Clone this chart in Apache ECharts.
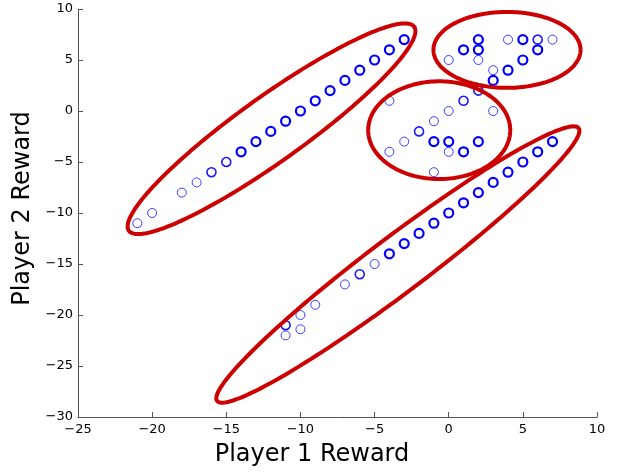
<!DOCTYPE html>
<html>
<head>
<meta charset="utf-8">
<script src="https://cdn.jsdelivr.net/npm/echarts@6/dist/echarts.min.js"></script>
<style>html,body{margin:0;padding:0;background:#fff;}#c{width:625px;height:472px;}</style>
</head>
<body>
<div id="c"></div>
<script>
// x tick labels and y tick labels (multiples of 5)
var xTicks = [-25, -20, -15, -10, -5, 0, 5, 10];
var yTicks = [-30, -25, -20, -15, -10, -5, 0, 5, 10];

// Points seen once (thin circles)
var singlePoints = [
  [-21,-11],[-20,-10],[-18,-8],[-17,-7],
  [-11,-22],[-10,-21.4],[-10,-20],[-9,-19],[-7,-17],[-5,-15],
  [-4,1],[-3,-3],[-4,-4],[-1,-1],[-1,-6],[0,0],[0,-4],[3,0],
  [0,5],[2,5],[3,4],[4,7],[7,7]
];
// Points seen a few times (medium circles)
var fewPoints = [
  [-16,-6],[-15,-5],
  [-11,-21],[-6,-16],
  [-2,-2],[1,1],[2,2],
  [6,7]
];
// Points seen many times (bold circles)
var manyPoints = [
  [-14,-4],[-13,-3],[-12,-2],[-11,-1],[-10,0],[-9,1],[-8,2],[-7,3],[-6,4],[-5,5],[-4,6],[-3,7],
  [-4,-14],[-3,-13],[-2,-12],[-1,-11],[0,-10],[1,-9],[2,-8],[3,-7],[4,-6],[5,-5],[6,-4],[7,-3],
  [-1,-3],[0,-3],[1,-4],[2,-3],
  [1,6],[2,7],[2,6],[3,3],[4,4],[5,7],[5,5],[6,6]
];
// Cluster outlines: centre (x,y), end of one semi-axis (x,y), end of the conjugate semi-axis (x,y)
var clusterEllipses = [
  [-11.95,-1.74, -2.33,8.26, -13.23,0.84],
  [-0.64,-1.88, 4.15,-1.88, -0.64,2.91],
  [3.93,5.99, 8.89,5.99, 3.93,9.71],
  [-3.43,-15.05, 8.76,-1.68, -4.57,-12.88]
];

var fmt = function(v){ return String(v).replace('-', '\u2212'); };
var axisCol = '#555';
var chart = echarts.init(document.getElementById('c'), null, {renderer:'canvas'});
function scatter(data, width, color){
  return {type:'scatter', data:data, symbol:'circle', symbolSize:9,
    itemStyle:{color:'rgba(0,0,0,0)', borderColor:color, borderWidth:width, opacity:1},
    emphasis:{disabled:true}, z:2, silent:true};
}
chart.setOption({
  animation:false,
  grid:{left:78, right:28, top:9, bottom:55, containLabel:false},
  xAxis:{type:'value', min:xTicks[0], max:xTicks[xTicks.length-1], interval:5,
    name:'Player 1 Reward', nameLocation:'middle', nameGap:26,
    nameTextStyle:{fontFamily:'DejaVu Sans', fontSize:24, color:'#000', padding:[0,51,0,0]},
    axisLine:{show:true, onZero:false, lineStyle:{color:axisCol, width:1}},
    axisTick:{show:true, inside:true, length:5, lineStyle:{color:axisCol}},
    axisLabel:{fontFamily:'DejaVu Sans', fontSize:13, color:'#000', margin:6, formatter:fmt},
    splitLine:{show:false}},
  yAxis:{type:'value', min:yTicks[0], max:yTicks[yTicks.length-1], interval:5,
    name:'Player 2 Reward', nameLocation:'middle', nameGap:35,
    nameTextStyle:{fontFamily:'DejaVu Sans', fontSize:24, color:'#000', padding:[0,0,0,9]},
    axisLine:{show:true, onZero:false, lineStyle:{color:axisCol, width:1}},
    axisTick:{show:true, inside:true, length:5, lineStyle:{color:axisCol}},
    axisLabel:{fontFamily:'DejaVu Sans', fontSize:13, color:'#000', margin:5, formatter:fmt},
    splitLine:{show:false}},
  series:[
    scatter(singlePoints, 1, '#3a3aff'),
    scatter(fewPoints, 1.6, '#1a1aff'),
    scatter(manyPoints, 2.2, '#0000ff'),
    {type:'custom', data:clusterEllipses, z:5, silent:true,
     encode:{x:[0,2,4], y:[1,3,5]},
     renderItem:function(params, api){
       var c = api.coord([api.value(0), api.value(1)]);
       var a = api.coord([api.value(2), api.value(3)]);
       var b = api.coord([api.value(4), api.value(5)]);
       var ux=a[0]-c[0], uy=a[1]-c[1], vx=b[0]-c[0], vy=b[1]-c[1];
       var pts=[];
       for (var i=0;i<180;i++){
         var t=i/180*2*Math.PI;
         pts.push([c[0]+ux*Math.cos(t)+vx*Math.sin(t), c[1]+uy*Math.cos(t)+vy*Math.sin(t)]);
       }
       return {type:'polygon', shape:{points:pts}, style:{fill:null, stroke:'#cc0000', lineWidth:4}};
     }}
  ]
});
</script>
</body>
</html>
